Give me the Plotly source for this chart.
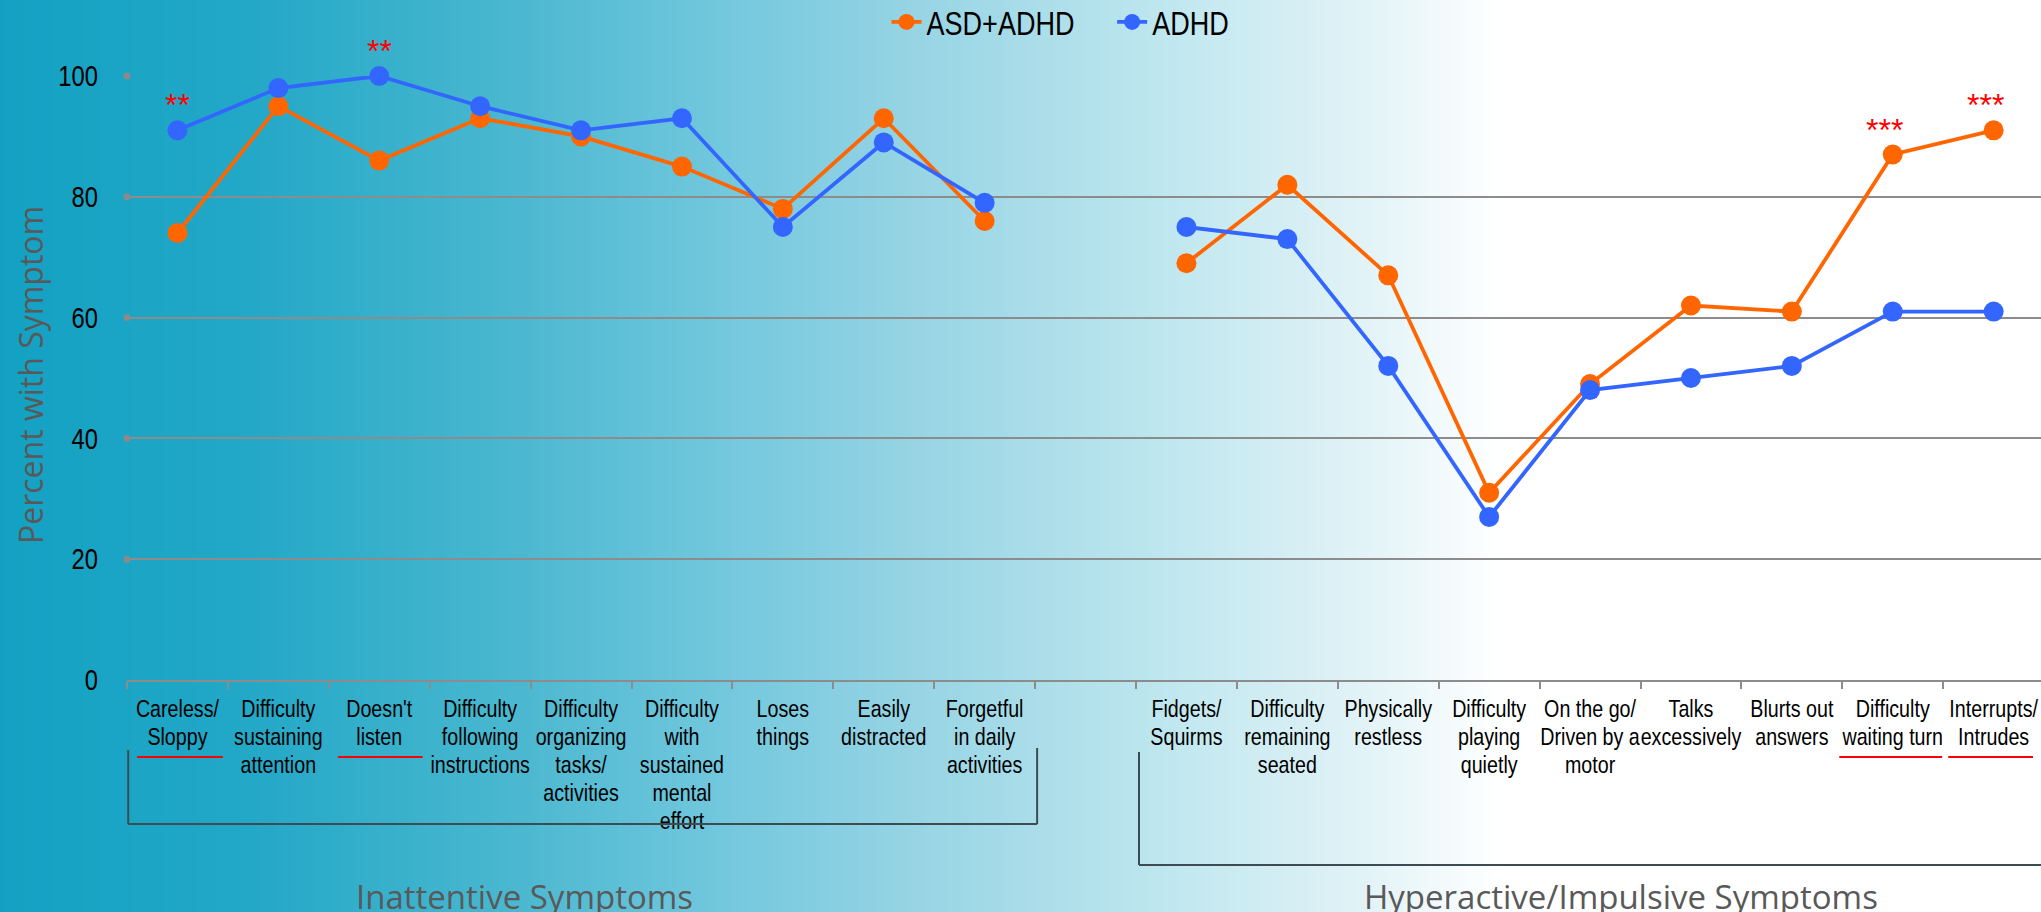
import plotly.graph_objects as go

# ---- data -------------------------------------------------------------
symptom_labels = [
    "Careless/<br>Sloppy",
    "Difficulty<br>sustaining<br>attention",
    "Doesn't<br>listen",
    "Difficulty<br>following<br>instructions",
    "Difficulty<br>organizing<br>tasks/<br>activities",
    "Difficulty<br>with<br>sustained<br>mental<br>effort",
    "Loses<br>things",
    "Easily<br>distracted",
    "Forgetful<br>in daily<br>activities",
    " ",
    "Fidgets/<br>Squirms",
    "Difficulty<br>remaining<br>seated",
    "Physically<br>restless",
    "Difficulty<br>playing<br>quietly",
    "On the go/<br>Driven by a<br>motor",
    "Talks<br>excessively",
    "Blurts out<br>answers",
    "Difficulty<br>waiting turn",
    "Interrupts/<br>Intrudes",
]

asd_adhd = [74, 95, 86, 93, 90, 85, 78, 93, 76, None,
            69, 82, 67, 31, 49, 62, 61, 87, 91]
adhd = [91, 98, 100, 95, 91, 93, 75, 89, 79, None,
        75, 73, 52, 27, 48, 50, 52, 61, 61]

# significance marks: (category index, stars)
significance = [(0, "**"), (2, "**"), (17, "***"), (18, "***")]

group_names = ["Inattentive Symptoms", "Hyperactive/Impulsive Symptoms"]

y_ticks = [0, 20, 40, 60, 80, 100]

# ---- styling ------------------------------------------------------------
W, H = 2041, 912
ML, MR, MT, MB = 127, 0, 76, 232
PW, PH = W - ML - MR, H - MT - MB
SLOT = 100.9  # pixels per category
X_RANGE = [-0.5, -0.5 + PW / SLOT]

ORANGE = "#ff6600"
BLUE = "#3366ff"
NARROW = "Liberation Sans Narrow, Liberation Sans, Arial, sans-serif"
SANS = "Open Sans, Noto Sans, sans-serif"


def py(px):
    """figure pixel row -> paper y"""
    return (MT + PH - px) / PH


def px_x(px):
    """figure pixel column -> paper x"""
    return (px - ML) / PW


def cat_x(pos):
    """category position (index units) -> paper x"""
    return px_x(ML + (pos - X_RANGE[0]) * SLOT)


x = symptom_labels

fig = go.Figure()
fig.add_trace(go.Scatter(
    x=x, y=asd_adhd, name="ASD+ADHD", mode="lines+markers",
    line=dict(color=ORANGE, width=3.8),
    marker=dict(color=ORANGE, size=20),
    connectgaps=False, cliponaxis=False,
))
fig.add_trace(go.Scatter(
    x=x, y=adhd, name="ADHD", mode="lines+markers",
    line=dict(color=BLUE, width=3.8),
    marker=dict(color=BLUE, size=20),
    connectgaps=False, cliponaxis=False,
))

shapes = []

# horizontal background fade: teal on the left to white
stops = [
    (0, (19, 161, 195)),
    (250, (35, 168, 199)),
    (520, (75, 184, 208)),
    (700, (110, 198, 220)),
    (911, (150, 212, 228)),
    (1171, (192, 231, 239)),
    (1367, (226, 243, 247)),
    (1500, (255, 255, 255)),
]


def fade(px):
    for (x0, c0), (x1, c1) in zip(stops[:-1], stops[1:]):
        if x0 <= px <= x1:
            t = (px - x0) / (x1 - x0)
            return "rgb(%d,%d,%d)" % tuple(round(a + (b - a) * t) for a, b in zip(c0, c1))
    return "rgb(255,255,255)"


step = 6
for sx in range(0, 1500, step):
    shapes.append(dict(
        type="rect", xref="paper", yref="paper", layer="below",
        x0=px_x(sx), x1=px_x(sx + step + 0.6), y0=py(H), y1=py(0),
        fillcolor=fade(sx + step / 2), line=dict(width=0),
    ))

# small round caps at the start of each gridline
for v in y_ticks[1:]:
    shapes.append(dict(
        type="circle", xref="paper", yref="paper", xsizemode="pixel", ysizemode="pixel",
        xanchor=0, yanchor=v / 100.0, x0=-3.5, x1=3.5, y0=-3.5, y1=3.5,
        fillcolor="#8a8a8a", line=dict(width=0), layer="above",
    ))

# red underline below labels of significant items
underline_span = {0: (-0.40, 0.45), 2: (-0.41, 0.43), 17: (-0.53, 0.49), 18: (-0.45, 0.39)}
for idx, _ in significance:
    a, b = underline_span[idx]
    shapes.append(dict(
        type="line", xref="paper", yref="paper", x0=cat_x(idx + a), x1=cat_x(idx + b),
        y0=py(757), y1=py(757), line=dict(color="#ff0000", width=2),
    ))

# group brackets
BRACKET = "#3c4c52"


def seg(x0, y0, x1, y1):
    shapes.append(dict(
        type="line", xref="paper", yref="paper", x0=x0, y0=y0, x1=x1, y1=y1,
        line=dict(color=BRACKET, width=2),
    ))


seg(cat_x(-0.488), py(750), cat_x(-0.488), py(824))
seg(cat_x(-0.488), py(824), cat_x(8.52), py(824))
seg(cat_x(8.52), py(824), cat_x(8.52), py(748))
seg(cat_x(9.53), py(752), cat_x(9.53), py(865))
seg(cat_x(9.53), py(865), px_x(W + 5), py(865))

annotations = []
for idx, stars in significance:
    top = max(v for v in (asd_adhd[idx], adhd[idx]) if v is not None)
    annotations.append(dict(
        x=idx, y=top, xref="x", yref="y", text=stars, showarrow=False,
        yanchor="bottom", yshift=5, xshift=-8 if len(stars) == 3 else 0,
        font=dict(color="#ff0000", size=32, family="Liberation Sans, Arial, sans-serif"),
    ))

annotations.append(dict(
    x=px_x(524), y=py(896), xref="paper", yref="paper", text=group_names[0],
    showarrow=False, xanchor="center", yanchor="middle",
    font=dict(color="#595959", size=33, family=SANS),
))
annotations.append(dict(
    x=px_x(1621), y=py(896), xref="paper", yref="paper", text=group_names[1],
    showarrow=False, xanchor="center", yanchor="middle",
    font=dict(color="#595959", size=33, family=SANS),
))
annotations.append(dict(
    x=px_x(30), y=py(375), xref="paper", yref="paper", text="Percent with Symptom",
    showarrow=False, textangle=-90, xanchor="center", yanchor="middle",
    font=dict(color="#595959", size=32, family=SANS),
))

fig.update_layout(
    width=W, height=H,
    margin=dict(l=ML, r=MR, t=MT, b=MB, autoexpand=False),
    paper_bgcolor="white", plot_bgcolor="rgba(0,0,0,0)",
    showlegend=True,
    legend=dict(
        orientation="h", x=px_x(1069), y=py(22), xanchor="center", yanchor="middle",
        font=dict(size=33, family=NARROW, color="black"),
        bgcolor="rgba(0,0,0,0)", itemwidth=30, traceorder="normal",
    ),
    xaxis=dict(
        type="category", categoryorder="array", categoryarray=symptom_labels,
        range=X_RANGE, tickson="boundaries", ticks="outside", ticklen=7,
        tickcolor="#8c8c8c", tickwidth=1.5,
        showline=True, linecolor="#8c8c8c", linewidth=2,
        showgrid=False, zeroline=False, tickangle=0,
        ticklabelstandoff=6,
        tickfont=dict(size=24, family=NARROW, color="black"),
        automargin=False,
    ),
    yaxis=dict(
        range=[0, 100], tickvals=y_ticks, showgrid=True,
        gridcolor="#8c8c8c", gridwidth=2, zeroline=False, showline=False,
        ticks="", ticklabelstandoff=28,
        tickfont=dict(size=29, family=NARROW, color="black"),
        automargin=False,
    ),
    shapes=shapes,
    annotations=annotations,
)

# Narrow face: compress the "Narrow" texts horizontally around their anchor,
# and tighten the line pitch of the multi-line category labels.
narrow_js = """
var gd = document.getElementById('{plot_id}');
gd.querySelectorAll('text').forEach(function (t) {
  var ff = t.style.fontFamily || '';
  if (ff.indexOf('Narrow') === -1) { return; }
  var ax = parseFloat(t.getAttribute('x')) || 0;
  var tr = t.getAttribute('transform') || '';
  t.setAttribute('transform', tr + ' translate(' + ax + ',0) scale(0.82,1) translate(' + (-ax) + ',0)');
  if (t.closest('.xtick')) {
    t.querySelectorAll('tspan.line').forEach(function (s, i) {
      if (i > 0) { s.setAttribute('dy', (i * 1.17).toFixed(3) + 'em'); }
    });
  }
});
"""

fig.write_html("out.html", post_script=narrow_js)
